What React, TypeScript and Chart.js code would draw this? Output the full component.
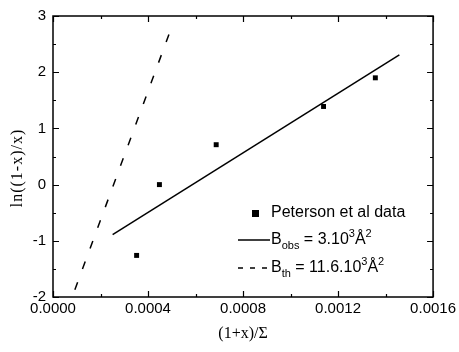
import React, { useEffect, useRef } from "react";
import { Chart, registerables } from "chart.js";

Chart.register(...registerables);

const dataX = [0.000352, 0.000448, 0.000687, 0.001139, 0.001357];
const dataY = [-1.26, 0.0, 0.71, 1.39, 1.9];
const obsX = [0.000251, 0.001458];
const obsY = [-0.89, 2.31];
const thX = [0.000092, 0.000494];
const thY = [-1.87, 2.74];
const xTicks = [0, 0.0004, 0.0008, 0.0012, 0.0016];
const yTicks = [-2, -1, 0, 1, 2, 3];
const yTitle = "ln((1-x)/x)";
const xTitle = "(1+x)/Σ";

const SANS = "'Liberation Sans', Arial, sans-serif";
const SERIF = "'Liberation Serif', 'Times New Roman', serif";

const framePlugin = {
  id: "frame",
  afterDraw(chart: any) {
    const { ctx, chartArea: a, scales } = chart;
    const xs = scales.x;
    const ys = scales.y;
    ctx.save();
    ctx.strokeStyle = "#000";
    ctx.lineWidth = 1.5;
    ctx.strokeRect(a.left, a.top, a.right - a.left, a.bottom - a.top);
    ctx.lineWidth = 1.2;
    ctx.beginPath();
    for (let v = 0; v <= 0.00161; v += 0.0002) {
      const px = Math.round(xs.getPixelForValue(v)) + 0.5;
      const major = Math.abs(v / 0.0004 - Math.round(v / 0.0004)) < 1e-6;
      const len = major ? 6 : 3;
      ctx.moveTo(px, a.bottom);
      ctx.lineTo(px, a.bottom - len);
      ctx.moveTo(px, a.top);
      ctx.lineTo(px, a.top + len);
    }
    for (let v = -2; v <= 3.001; v += 0.5) {
      const py = Math.round(ys.getPixelForValue(v)) + 0.5;
      const major = Math.abs(v - Math.round(v)) < 1e-6;
      const len = major ? 6 : 3;
      ctx.moveTo(a.left, py);
      ctx.lineTo(a.left + len, py);
      ctx.moveTo(a.right, py);
      ctx.lineTo(a.right - len, py);
    }
    ctx.stroke();

    // y title
    ctx.save();
    ctx.fillStyle = "#000";
    ctx.font = `16px ${SERIF}`;
    try {
      (ctx as any).letterSpacing = "1px";
    } catch (e) {}
    ctx.textAlign = "center";
    ctx.textBaseline = "middle";
    ctx.translate(18, 168);
    ctx.rotate(-Math.PI / 2);
    ctx.fillText(yTitle, 0, 0);
    ctx.restore();

    // legend
    const lx = 271;
    ctx.fillStyle = "#000";
    ctx.textBaseline = "middle";
    ctx.textAlign = "left";
    const big = `16px ${SANS}`;
    const small = `11px ${SANS}`;
    ctx.fillRect(252, 210, 7, 7);
    ctx.font = big;
    ctx.fillText("Peterson et al data", lx, 213);

    const row = (y: number, sub: string, val: string, dashed: boolean) => {
      ctx.beginPath();
      ctx.lineWidth = 1.5;
      ctx.setLineDash(dashed ? [5, 7] : []);
      ctx.moveTo(238, y);
      ctx.lineTo(270, y);
      ctx.stroke();
      ctx.setLineDash([]);
      let x = lx;
      ctx.font = big;
      ctx.fillText("B", x, y);
      x += ctx.measureText("B").width;
      ctx.font = small;
      ctx.fillText(sub, x, y + 6);
      x += ctx.measureText(sub).width;
      ctx.font = big;
      ctx.fillText(" = " + val, x, y);
      x += ctx.measureText(" = " + val).width;
      ctx.font = small;
      ctx.fillText("3", x, y - 6);
      x += ctx.measureText("3").width;
      ctx.font = big;
      ctx.fillText("Å", x, y);
      x += ctx.measureText("Å").width;
      ctx.font = small;
      ctx.fillText("2", x, y - 6);
    };
    row(240, "obs", "3.10", false);
    row(268, "th", "11.6.10", true);
    ctx.restore();
  },
};

export default function App() {
  const ref = useRef<HTMLCanvasElement>(null);
  useEffect(() => {
    const chart = new Chart(ref.current!, {
      type: "scatter",
      data: {
        datasets: [
          {
            data: dataX.map((x, i) => ({ x, y: dataY[i] })),
            pointStyle: "rect",
            pointRadius: 3.5,
            backgroundColor: "#000",
            borderColor: "#000",
            borderWidth: 0,
            showLine: false,
          },
          {
            data: obsX.map((x, i) => ({ x, y: obsY[i] })),
            showLine: true,
            pointRadius: 0,
            borderColor: "#000",
            borderWidth: 1.5,
          },
          {
            data: thX.map((x, i) => ({ x, y: thY[i] })),
            showLine: true,
            pointRadius: 0,
            borderColor: "#000",
            borderWidth: 1.5,
            borderDash: [8, 14],
          },
        ],
      },
      options: {
        animation: false,
        responsive: false,
        layout: { padding: { top: 14, right: 24, left: 0, bottom: 0 } },
        plugins: { legend: { display: false }, tooltip: { enabled: false } },
        scales: {
          x: {
            type: "linear",
            min: 0,
            max: 0.0016,
            afterFit: (s: any) => {
              s.height = 55;
            },
            afterBuildTicks: (s: any) => {
              s.ticks = xTicks.map((v) => ({ value: v }));
            },
            ticks: {
              color: "#000",
              font: { family: SANS, size: 15 },
              padding: 3,
              maxRotation: 0,
              callback: (v: any) => Number(v).toFixed(4),
            },
            grid: { display: false, drawTicks: false, tickLength: 0 },
            border: { display: false },
            title: {
              display: true,
              text: xTitle,
              color: "#000",
              font: { family: SERIF, size: 16 },
              padding: { top: 0, bottom: 9 },
            },
          },
          y: {
            type: "linear",
            min: -2,
            max: 3,
            afterFit: (s: any) => {
              s.width = 53;
            },
            afterBuildTicks: (s: any) => {
              s.ticks = yTicks.map((v) => ({ value: v }));
            },
            ticks: {
              color: "#000",
              font: { family: SANS, size: 15 },
              padding: 7,
            },
            grid: { display: false, drawTicks: false, tickLength: 0 },
            border: { display: false },
            title: { display: false },
          },
        },
      },
      plugins: [framePlugin],
    } as any);
    return () => chart.destroy();
  }, []);
  return (
    <div style={{ position: "fixed", left: 0, top: 0, width: 459, height: 352, background: "#fff" }}>
      <canvas ref={ref} width={459} height={352} />
    </div>
  );
}
